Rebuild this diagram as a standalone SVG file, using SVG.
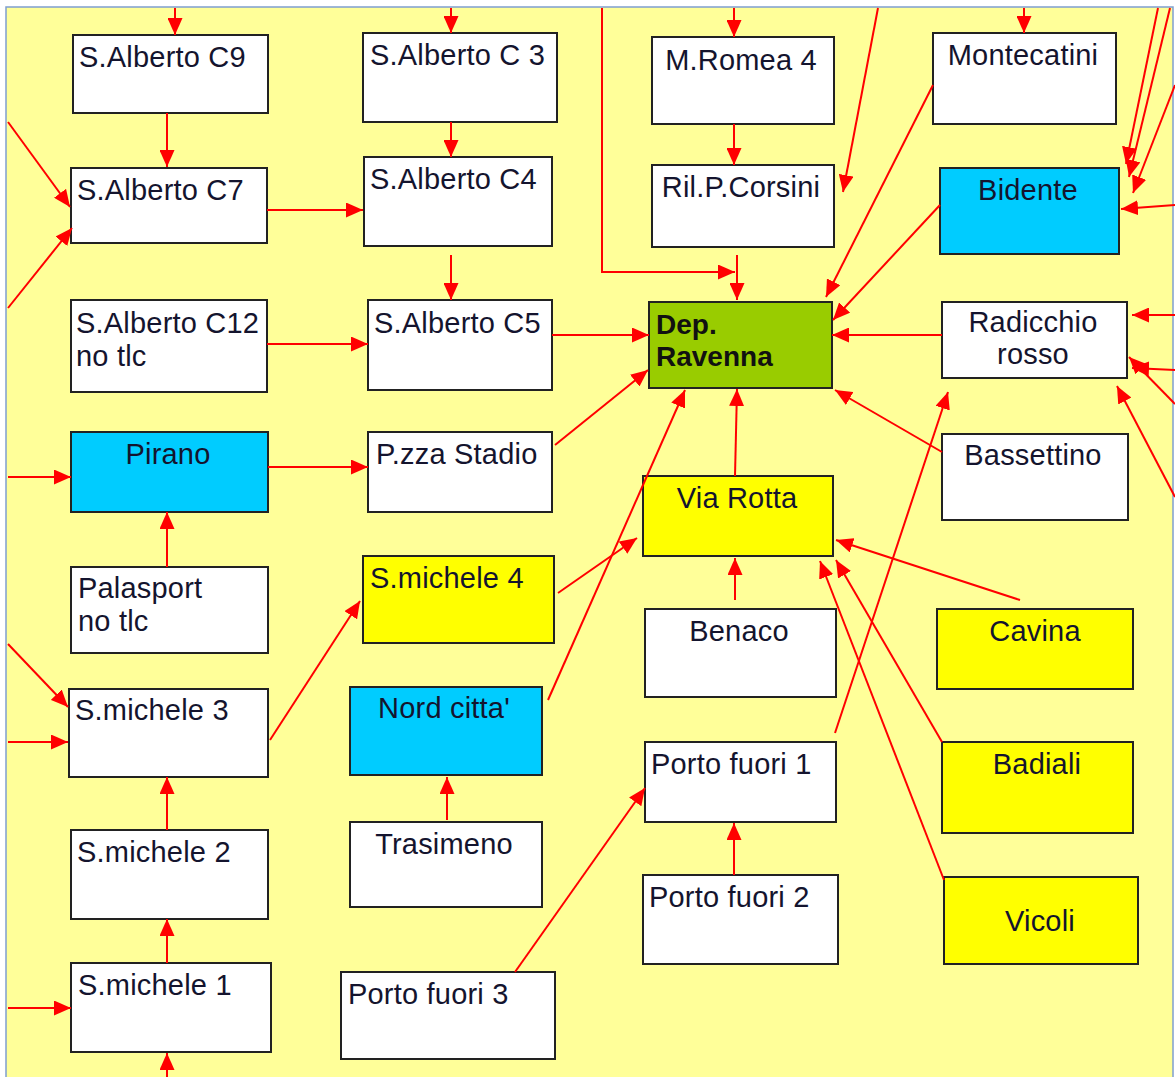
<svg xmlns="http://www.w3.org/2000/svg" width="1175" height="1077" viewBox="0 0 1175 1077">
  <style>
    .box { stroke: #222; stroke-width: 2; }
    .w { fill: #ffffff; }
    .b { fill: #00ccff; }
    .y { fill: #ffff00; }
    .g { fill: #99cc00; }
    .lbl { font-family: "Liberation Sans", Arial, sans-serif; font-size: 29px; letter-spacing: 0.2px; fill: #14142e; }
    .mid { text-anchor: middle; }
    .bold { font-weight: bold; fill: #111; font-size: 28px; letter-spacing: 0; }
    .cn line, .cn polyline { stroke: #ff0000; stroke-width: 2; fill: none; marker-end: url(#ah); }
  </style>
  <defs>
    <marker id="ah" markerUnits="userSpaceOnUse" markerWidth="17" markerHeight="15" refX="17" refY="7.5" orient="auto">
      <path d="M0,0 L17,7.5 L0,15 z" fill="#ff0000"/>
    </marker>
  </defs>

  <!-- page -->
  <rect x="0" y="0" width="1175" height="1077" fill="#ffffff"/>
  <rect x="6" y="7" width="1167" height="1085" fill="#ffff99" stroke="#7f9fcf" stroke-width="1.5"/>

  <!-- nodes -->
  <g id="s-alberto-c9"><rect class="box w" x="73" y="35" width="195" height="78"/><text class="lbl" x="79" y="67">S.Alberto C9</text></g>
  <g id="s-alberto-c7"><rect class="box w" x="71" y="168" width="196" height="75"/><text class="lbl" x="77" y="200">S.Alberto C7</text></g>
  <g id="s-alberto-c3"><rect class="box w" x="363" y="33" width="194" height="89"/><text class="lbl" x="370" y="65">S.Alberto C 3</text></g>
  <g id="s-alberto-c4"><rect class="box w" x="364" y="157" width="188" height="89"/><text class="lbl" x="370" y="189">S.Alberto C4</text></g>
  <g id="s-alberto-c12"><rect class="box w" x="71" y="300" width="196" height="92"/><text class="lbl" x="76" y="333">S.Alberto C12</text><text class="lbl" x="76" y="366">no tlc</text></g>
  <g id="s-alberto-c5"><rect class="box w" x="368" y="300" width="184" height="90"/><text class="lbl" x="374" y="333">S.Alberto C5</text></g>
  <g id="pirano"><rect class="box b" x="71" y="432" width="197" height="80"/><text class="lbl mid" x="168" y="464">Pirano</text></g>
  <g id="pzza-stadio"><rect class="box w" x="368" y="432" width="184" height="80"/><text class="lbl" x="376" y="464">P.zza Stadio</text></g>
  <g id="palasport"><rect class="box w" x="71" y="567" width="197" height="86"/><text class="lbl" x="78" y="598">Palasport</text><text class="lbl" x="78" y="631">no tlc</text></g>
  <g id="s-michele-3"><rect class="box w" x="69" y="689" width="199" height="88"/><text class="lbl" x="75" y="720">S.michele 3</text></g>
  <g id="s-michele-2"><rect class="box w" x="71" y="830" width="197" height="89"/><text class="lbl" x="77" y="862">S.michele 2</text></g>
  <g id="s-michele-1"><rect class="box w" x="71" y="963" width="200" height="89"/><text class="lbl" x="78" y="995">S.michele 1</text></g>
  <g id="s-michele-4"><rect class="box y" x="363" y="556" width="191" height="87"/><text class="lbl" x="370" y="588">S.michele 4</text></g>
  <g id="nord-citta"><rect class="box b" x="350" y="687" width="192" height="88"/><text class="lbl mid" x="444" y="718">Nord citta'</text></g>
  <g id="trasimeno"><rect class="box w" x="350" y="822" width="192" height="85"/><text class="lbl mid" x="444" y="854">Trasimeno</text></g>
  <g id="porto-fuori-3"><rect class="box w" x="341" y="972" width="214" height="87"/><text class="lbl" x="348" y="1004">Porto fuori 3</text></g>
  <g id="m-romea-4"><rect class="box w" x="652" y="37" width="182" height="87"/><text class="lbl mid" x="741" y="70">M.Romea 4</text></g>
  <g id="ril-p-corsini"><rect class="box w" x="652" y="165" width="182" height="82"/><text class="lbl mid" x="741" y="197">Ril.P.Corsini</text></g>
  <g id="dep-ravenna"><rect class="box g" x="649" y="302" width="183" height="86"/><text class="lbl bold" x="656" y="334">Dep.</text><text class="lbl bold" x="656" y="366">Ravenna</text></g>
  <g id="montecatini"><rect class="box w" x="933" y="33" width="183" height="91"/><text class="lbl mid" x="1023" y="65">Montecatini</text></g>
  <g id="bidente"><rect class="box b" x="940" y="168" width="179" height="86"/><text class="lbl mid" x="1028" y="200">Bidente</text></g>
  <g id="radicchio-rosso"><rect class="box w" x="942" y="302" width="185" height="76"/><text class="lbl mid" x="1033" y="332">Radicchio</text><text class="lbl mid" x="1033" y="364">rosso</text></g>
  <g id="bassettino"><rect class="box w" x="942" y="434" width="186" height="86"/><text class="lbl mid" x="1033" y="465">Bassettino</text></g>
  <g id="via-rotta"><rect class="box y" x="643" y="476" width="190" height="80"/><text class="lbl mid" x="737" y="508">Via Rotta</text></g>
  <g id="benaco"><rect class="box w" x="645" y="609" width="191" height="88"/><text class="lbl mid" x="739" y="641">Benaco</text></g>
  <g id="cavina"><rect class="box y" x="937" y="609" width="196" height="80"/><text class="lbl mid" x="1035" y="641">Cavina</text></g>
  <g id="porto-fuori-1"><rect class="box w" x="645" y="742" width="191" height="80"/><text class="lbl" x="651" y="774">Porto fuori 1</text></g>
  <g id="badiali"><rect class="box y" x="942" y="742" width="191" height="91"/><text class="lbl mid" x="1037" y="774">Badiali</text></g>
  <g id="porto-fuori-2"><rect class="box w" x="643" y="875" width="195" height="89"/><text class="lbl" x="649" y="907">Porto fuori 2</text></g>
  <g id="vicoli"><rect class="box y" x="944" y="877" width="194" height="87"/><text class="lbl mid" x="1040" y="931">Vicoli</text></g>

  <!-- connectors -->
  <g id="connectors" class="cn">
    <line x1="175" y1="8" x2="175" y2="35"/>
    <line x1="167" y1="113" x2="167" y2="167"/>
    <line x1="8" y1="122" x2="70" y2="207"/>
    <line x1="8" y1="308" x2="72" y2="228"/>
    <line x1="267" y1="210" x2="363" y2="210"/>
    <line x1="451" y1="8" x2="451" y2="33"/>
    <line x1="451" y1="122" x2="451" y2="157"/>
    <line x1="451" y1="255" x2="451" y2="300"/>
    <line x1="267" y1="344" x2="368" y2="344"/>
    <line x1="552" y1="335" x2="649" y2="335"/>
    <line x1="8" y1="477" x2="71" y2="477"/>
    <line x1="268" y1="467" x2="368" y2="467"/>
    <line x1="167" y1="567" x2="167" y2="512"/>
    <line x1="555" y1="445" x2="648" y2="370"/>
    <line x1="8" y1="644" x2="68" y2="707"/>
    <line x1="8" y1="742" x2="68" y2="742"/>
    <line x1="167" y1="830" x2="167" y2="777"/>
    <line x1="167" y1="963" x2="167" y2="919"/>
    <line x1="8" y1="1008" x2="71" y2="1008"/>
    <line x1="167" y1="1077" x2="167" y2="1053"/>
    <line x1="270" y1="740" x2="360" y2="601"/>
    <line x1="558" y1="593" x2="637" y2="538"/>
    <line x1="548" y1="700" x2="685" y2="390"/>
    <line x1="447" y1="820" x2="447" y2="777"/>
    <line x1="515" y1="972" x2="645" y2="788"/>
    <line x1="734" y1="875" x2="734" y2="823"/>
    <line x1="734" y1="8" x2="734" y2="37"/>
    <line x1="734" y1="124" x2="734" y2="165"/>
    <line x1="737" y1="255" x2="737" y2="300"/>
    <polyline points="602,8 602,272 735,272"/>
    <line x1="878" y1="8" x2="843" y2="192"/>
    <line x1="933" y1="85" x2="826" y2="297"/>
    <line x1="1024" y1="8" x2="1024" y2="33"/>
    <line x1="1158" y1="8" x2="1126" y2="164"/>
    <line x1="1170" y1="8" x2="1129" y2="177"/>
    <line x1="1175" y1="85" x2="1133" y2="193"/>
    <line x1="1175" y1="205" x2="1121" y2="209"/>
    <line x1="940" y1="205" x2="833" y2="320"/>
    <line x1="942" y1="335" x2="832" y2="335"/>
    <line x1="1175" y1="315" x2="1132" y2="315"/>
    <line x1="1175" y1="370" x2="1132" y2="368"/>
    <line x1="1175" y1="404" x2="1129" y2="357"/>
    <line x1="1175" y1="497" x2="1117" y2="386"/>
    <line x1="835" y1="733" x2="948" y2="392"/>
    <line x1="942" y1="452" x2="835" y2="390"/>
    <line x1="735" y1="476" x2="737" y2="389"/>
    <line x1="735" y1="600" x2="735" y2="558"/>
    <line x1="1020" y1="600" x2="836" y2="540"/>
    <line x1="942" y1="742" x2="836" y2="560"/>
    <line x1="944" y1="880" x2="820" y2="561"/>
  </g>
</svg>
